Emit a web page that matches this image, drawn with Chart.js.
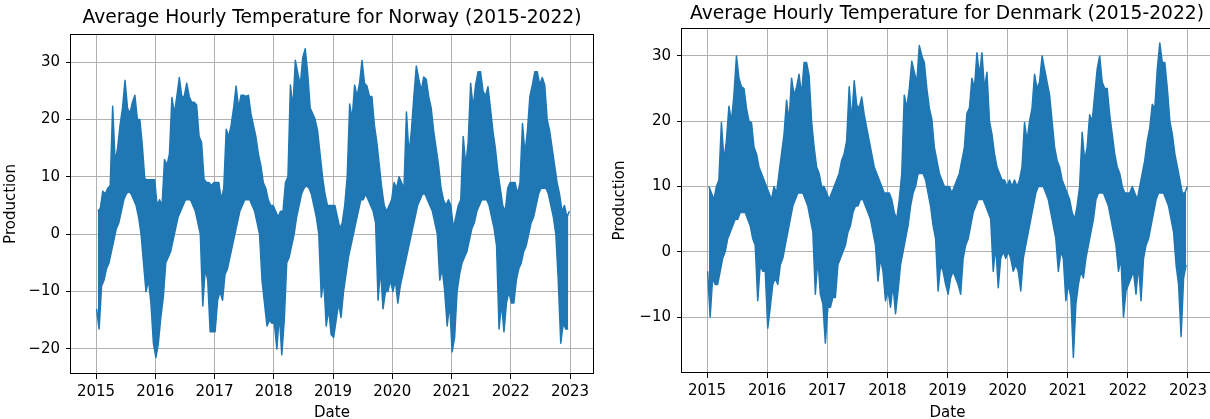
<!DOCTYPE html>
<html>
<head>
<meta charset="utf-8">
<script src="https://cdn.jsdelivr.net/npm/chart.js@4.4.1/dist/chart.umd.min.js"></script>
<style>
  html, body { margin: 0; padding: 0; background: #fff; overflow: hidden; }
  body { width: 1210px; height: 419px; position: relative; }
  canvas { position: absolute; top: 0; }
  #norwayChart { left: 0; width: 664px; height: 430px; }
  #denmarkChart { left: 605px; width: 684px; height: 430px; }
</style>
</head>
<body>
<canvas id="norwayChart" width="664" height="430"></canvas>
<canvas id="denmarkChart" width="684" height="430"></canvas>
<script>
// half-month buckets (24 per year), low and high of the hourly band
const years = [2015, 2016, 2017, 2018, 2019, 2020, 2021, 2022];
const xTickYears = [2015, 2016, 2017, 2018, 2019, 2020, 2021, 2022, 2023];
const norwayTicks = [-20, -10, 0, 10, 20, 30];
const denmarkTicks = [-10, 0, 10, 20, 30];

const norwayLow = [
    [-13, -16.5, -9, -8, -6, -5, -3, -1, 1, 2, 4, 6, 7, 7.5, 7, 6, 5, 3, 0, -5, -10, -8, -12, -19],
    [-21.5, -19, -14.5, -11, -5, -4, -3, -1, 1, 3, 4, 5, 6, 6, 6, 5, 4, 2, 0, -12.5, -6, -8, -17, -17],
    [-17, -11.5, -10, -11.5, -7, -6, -4, -2, 0, 2, 4, 5, 6, 6, 6, 5, 4, 2, 0, -8, -12, -16, -15, -15.5],
    [-15.5, -20, -14, -21, -15, -5, -4, -2, 0, 3, 5, 7, 8, 8.5, 8, 7, 5, 3, 0, -11, -8, -16, -13, -17.5],
    [-18, -15, -12, -14.5, -10, -7, -4, -2, 0, 2, 4, 6, 6, 7, 6, 5, 4, 2, -11.5, -6, -13, -10, -10, -8],
    [-10, -8, -12, -9, -7, -5, -3, -1, 1, 3, 5, 6, 7, 7, 6, 5, 4, 2, 0, -8, -6, -10, -16, -12],
    [-20.5, -18, -10, -7, -5, -4, -3, -1, 1, 2, 4, 5, 6, 6, 6, 5, 3, 1, -2, -16.5, -12, -17, -12, -10],
    [-12, -12, -8, -6, -5, -3, -2, 0, 2, 3, 5, 7, 8, 8, 8, 7, 5, 3, 0, -8, -19, -15.5, -16.5, -16.5]
];
const norwayHigh = [
    [4, 4.5, 7.5, 7, 8, 8.5, 22.3, 12.5, 15, 19, 22, 26.8, 22, 21, 23, 24.2, 20, 20, 15.5, 9.6, 9.5, 9.5, 9.5, 9.5],
    [5, 6, 5, 13, 12, 14, 23.8, 21, 24, 27.3, 24, 24, 26.3, 24, 23, 23, 22.5, 17, 16, 9.6, 9, 9, 8.5, 9],
    [9, 9, 6, 8, 18.3, 17, 19, 22, 25.8, 22, 24.2, 24.2, 24, 24.2, 21, 19, 17, 14, 12, 9, 8, 6, 5, 5],
    [4, 3, 4, 4, 9, 10, 26, 22, 30.3, 28, 26, 30.8, 32.3, 28, 22, 21, 20, 18, 14, 10, 7, 5, 5, 5],
    [5, 3, 1, 2, 5, 10, 22.7, 20, 26, 24, 26.3, 30.3, 26.3, 25.8, 24, 24, 19, 16, 12, 8, 5, 4, 5, 6],
    [9, 8, 10, 9, 8, 21.3, 14, 18, 24, 29.3, 27, 25, 27.4, 27, 24, 22, 18, 15, 12, 8, 6, 5, 6, 5],
    [1, 3, 5, 6, 17, 12, 16, 26.3, 22, 26, 28.3, 28.3, 25, 24, 25.7, 22, 18, 15, 11, 8, 5, 4, 8, 9],
    [9, 9, 7, 9, 19.3, 14, 18, 24, 26, 28.3, 28.3, 26, 27.3, 26, 20, 18, 15, 12, 9, 7, 4, 5, 3, 4]
];

const denmarkLow = [
    [-3, -10, -4, -5, -5, -3, -1, 0, 2, 3, 4, 5, 5, 6, 6, 6, 5, 4, 2, 1, -7.5, -2, -3, -3],
    [-11.7, -8.5, -5, -4, -5, -2, -1, 1, 3, 5, 7, 8, 9, 9, 9, 8, 7, 5, 3, -6.5, -1, -6.5, -8, -14],
    [-8.5, -8.5, -7, -7, -2, -1, 0, 1, 3, 4, 6, 7, 7, 8, 8, 7, 6, 5, 3, 1, -4.5, -1, -3, -7.5],
    [-6, -8.5, -5, -9.5, -6, -2, 0, 2, 4, 7, 9, 10, 12, 12, 12, 11, 9, 7, 4, 2, -6, -2, -3, -5],
    [-6.5, -4, -3, -4, -5, -6.5, -1, 1, 2, 4, 6, 7, 8, 8, 8, 7, 6, 5, -3, 1, -5.5, -1, 0, -1],
    [0, -1, -3, -2, -3, -6, -1, 1, 3, 5, 7, 9, 10, 10, 10, 9, 8, 6, 4, 2, -3, 0, -1, -7.5],
    [-5, -7, -16.2, -8, -5, -3, -4, -1, 1, 3, 5, 8, 9, 9, 9, 8, 7, 5, 3, 1, -3, -1, -10, -6],
    [-5, -4, -3, -6.5, -2, -7.5, -1, 1, 2, 4, 6, 8, 9, 9, 9, 8, 7, 5, 3, -2, -5, -13, -4, -2]
];
const denmarkHigh = [
    [10, 9, 8, 10, 11, 19.8, 14, 17, 22.3, 20, 24, 30, 26.6, 25.3, 25, 22, 20, 19.8, 16, 15, 13, 12, 11, 10],
    [9, 8, 10, 9, 12, 15, 18, 23.2, 20, 26.6, 24, 25.2, 27.2, 24, 29, 29, 27, 20, 16, 13, 12, 10, 10, 9],
    [8, 9, 10, 11, 12, 14, 15, 17, 25.3, 20, 26.2, 22.5, 22, 23.7, 21, 19, 17, 15, 13, 12, 11, 10, 9, 9],
    [9, 8, 6, 5, 8, 12, 24, 22, 25, 29.2, 27.5, 26, 31.6, 30, 29, 25, 22, 20.3, 16, 14, 12, 11, 10, 10],
    [10, 9, 10, 11, 12, 14, 16, 21.2, 22, 26.6, 25, 30.5, 27, 30.5, 25, 27.5, 20, 18, 15, 13, 12, 11, 11, 10],
    [11, 10, 11, 10, 11, 13, 19.8, 17, 20, 22, 27.2, 25, 26, 30, 28, 26, 24, 20, 16, 14, 13, 11, 10, 9],
    [8, 6, 5, 7, 10, 18.3, 14, 16, 21, 20, 24, 28, 30, 26, 25, 25, 21, 18, 15, 13, 12, 10, 9, 9],
    [9, 10, 9, 8, 10, 12, 14, 17, 19, 22.6, 22, 28, 32, 29, 29, 25, 20, 18, 15, 13, 11, 9, 9, 10]
];

Chart.defaults.font.family = "'DejaVu Sans', sans-serif";
Chart.defaults.color = '#000';

// one point per half-month bucket, low edge slightly before the high edge
function bandEdge(values, shift) {
    const pts = [];
    years.forEach((yr, i) => {
        values[i].forEach((v, k) => {
            pts.push({ x: yr + (k + shift) / 24, y: v });
        });
    });
    return pts;
}

// box round the plot area, like the matplotlib spines
const framePlugin = {
    id: 'frame',
    afterDraw(chart) {
        const { ctx, chartArea: a } = chart;
        ctx.save();
        ctx.strokeStyle = '#000';
        ctx.lineWidth = 1;
        ctx.strokeRect(Math.round(a.left) - 0.5, Math.round(a.top) + 0.5,
            Math.round(a.right - a.left) + 1, Math.round(a.bottom - a.top) - 1);
        ctx.restore();
    }
};

function renderChart(id, cfg) {
    const ctx = document.getElementById(id).getContext('2d');
    const lineStyle = {
        borderColor: '#1f77b4',
        backgroundColor: '#1f77b4',
        borderWidth: 1.5,
        borderJoinStyle: 'round',
        pointRadius: 0,
        tension: 0
    };
    return new Chart(ctx, {
        type: 'line',
        data: {
            datasets: [
                { ...lineStyle, data: bandEdge(cfg.lows, 0.25), fill: false },
                { ...lineStyle, data: bandEdge(cfg.highs, 0.75), fill: '-1' }
            ]
        },
        options: {
            responsive: false,
            animation: false,
            devicePixelRatio: 1,
            layout: { padding: 0 },
            plugins: {
                legend: { display: false },
                tooltip: { enabled: false },
                title: {
                    display: true,
                    text: cfg.title,
                    color: '#000',
                    font: { size: 18.7, weight: 'normal' },
                    padding: cfg.titlePad
                }
            },
            scales: {
                x: {
                    type: 'linear',
                    min: cfg.xMin,
                    max: cfg.xMax,
                    afterBuildTicks: s => { s.ticks = xTickYears.map(v => ({ value: v })); },
                    afterFit: s => { s.height = cfg.xAxisHeight; },
                    ticks: {
                        callback: v => String(Math.round(v)),
                        font: { size: 15 },
                        padding: 4,
                        autoSkip: false,
                        maxRotation: 0
                    },
                    grid: { color: '#b0b0b0', lineWidth: 1, tickColor: '#000', tickLength: 5 },
                    border: { display: false },
                    title: { display: true, text: 'Date', font: { size: 15 }, padding: { top: 0, bottom: 8 } }
                },
                y: {
                    type: 'linear',
                    min: cfg.yMin,
                    max: cfg.yMax,
                    afterBuildTicks: s => { s.ticks = cfg.yTicks.map(v => ({ value: v })); },
                    afterFit: s => { s.width = cfg.yAxisWidth; },
                    ticks: {
                        callback: v => (v < 0 ? '\u2212' + Math.abs(v) : String(v)),
                        font: { size: 15 },
                        padding: 6
                    },
                    grid: { color: '#b0b0b0', lineWidth: 1, tickColor: '#000', tickLength: 5 },
                    border: { display: false },
                    title: { display: true, text: 'Production', font: { size: 15 }, padding: { top: cfg.yTitlePad, bottom: 0 } }
                },
                yRight: {
                    position: 'right',
                    afterFit: s => { s.width = cfg.rightSpace; },
                    ticks: { display: false },
                    grid: { display: false },
                    border: { display: false }
                }
            }
        },
        plugins: [framePlugin]
    });
}

renderChart('norwayChart', {
    title: 'Average Hourly Temperature for Norway (2015-2022)',
    lows: norwayLow,
    highs: norwayHigh,
    xMin: 2014.578, xMax: 2023.388,
    yMin: -24.36, yMax: 34.88,
    yTicks: norwayTicks,
    titlePad: { top: 7.3, bottom: 4.26 },
    xAxisHeight: 56,
    yAxisWidth: 71,
    yTitlePad: 2.5,
    rightSpace: 71
});

renderChart('denmarkChart', {
    title: 'Average Hourly Temperature for Denmark (2015-2022)',
    lows: denmarkLow,
    highs: denmarkHigh,
    xMin: 2014.584, xMax: 2023.416,
    yMin: -18.58, yMax: 34.29,
    yTicks: denmarkTicks,
    titlePad: { top: 2.8, bottom: 2.76 },
    xAxisHeight: 57,
    yAxisWidth: 77,
    yTitlePad: 6.5,
    rightSpace: 76
});
</script>
</body>
</html>
